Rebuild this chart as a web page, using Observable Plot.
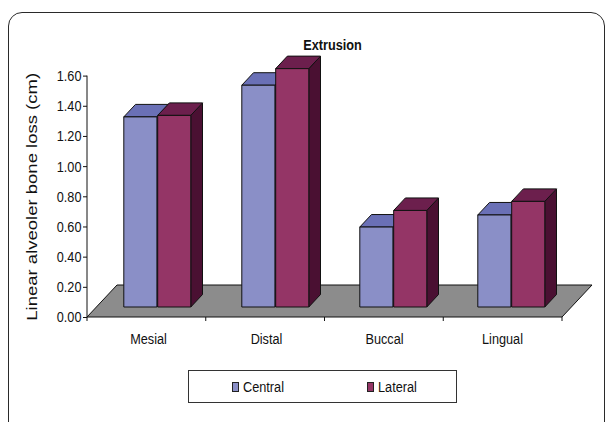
<!DOCTYPE html>
<html>
<head>
<meta charset="utf-8">
<script src="https://cdn.jsdelivr.net/npm/d3@7"></script>
<script src="https://cdn.jsdelivr.net/npm/@observablehq/plot@0.6"></script>
<style>
  html, body { margin: 0; padding: 0; background: #fff; overflow: hidden; }
  #chart { position: relative; width: 610px; height: 422px; overflow: hidden;
           font-family: "Liberation Sans", Arial, sans-serif; }
  #plot { position: absolute; left: 0; top: 0; }
  #border { position: absolute; left: 8px; top: 12px; width: 597px; height: 440px;
            border: 1.5px solid #2a2a2a; border-radius: 14px; box-sizing: border-box; }
  #legend { position: absolute; left: 188px; top: 370px; width: 269px; height: 33px;
            border: 1px solid #333; box-sizing: border-box; background: #fff; font-size: 15.5px; color: #111; }
  #legend .item { position: absolute; top: 0; height: 31px; display: flex; align-items: center; white-space: nowrap; }
  #legend .sw { display: inline-block; width: 5px; height: 8px; border: 1px solid #222; margin-right: 4px; }
  #legend .lbl { display: inline-block; transform: scaleX(0.82); transform-origin: left center; }
</style>
</head>
<body>
<div id="chart">
  <div id="plot"></div>
  <div id="border"></div>
  <div id="legend"></div>
</div>
<script>
// Extrusion: linear alveolar bone loss by site, central vs lateral incisors
const categories = ["Mesial", "Distal", "Buccal", "Lingual"];
const seriesNames = ["Central", "Lateral"];
const centralValues = [1.26, 1.47, 0.53, 0.61];
const lateralValues = [1.27, 1.58, 0.64, 0.70];
const yTicks = [0, 0.2, 0.4, 0.6, 0.8, 1.0, 1.2, 1.4, 1.6];
const titleText = "Extrusion";
const yLabel = "Linear alveoler bone loss (cm)";

const palette = {
  Central: {front: "#8a8fc7", top: "#6a70b6", side: "#4c5090", swatch: "#8a8fc7"},
  Lateral: {front: "#943566", top: "#6c1f4d", side: "#4a1032", swatch: "#943566"}
};

const rows = categories.flatMap((c, i) => [
  {category: c, series: seriesNames[0], value: centralValues[i]},
  {category: c, series: seriesNames[1], value: lateralValues[i]}
]);

// oblique projection: floor depth, bar front-plane offset and bar thickness (px)
const floorDepth = {dx: 30, dy: 32};
const barFront = {dx: 9.3, dy: 10};
const barDepth = {dx: 11.7, dy: 12.5};

const W = 610, H = 422, ML = 87, MR = 48, MT = 75.6, MB = 105;
const band = (W - ML - MR) / categories.length;
const sideGap = 25.5;
const barW = (band - 2 * sideGap) / 2;

// condensed lettering: Arial-metric glyphs squeezed horizontally
const SQUEEZE = 0.82;
const FONT = '"Liberation Sans", Arial, sans-serif';

const NS = "http://www.w3.org/2000/svg";
function poly(points, fill) {
  const p = document.createElementNS(NS, "polygon");
  p.setAttribute("points", points.map(d => d.join(",")).join(" "));
  p.setAttribute("fill", fill);
  p.setAttribute("stroke", "#111");
  p.setAttribute("stroke-width", 1);
  p.setAttribute("stroke-linejoin", "round");
  return p;
}
function line(x1, y1, x2, y2) {
  const l = document.createElementNS(NS, "line");
  l.setAttribute("x1", x1); l.setAttribute("y1", y1);
  l.setAttribute("x2", x2); l.setAttribute("y2", y2);
  l.setAttribute("stroke", "#111");
  l.setAttribute("stroke-width", 1);
  return l;
}
function squeezeAll(root, sx, sy) {
  for (const t of root.querySelectorAll("text")) {
    const tr = t.getAttribute("transform") || "";
    t.setAttribute("transform", `${tr} scale(${sx},${sy})`);
  }
}

// turns the flat bars into prisms: side face, top face, then the front face
function prism(colors) {
  return function(index, scales, values, dimensions, context, next) {
    const flat = next(index, scales, values, dimensions, context);
    const g = document.createElementNS(NS, "g");
    for (const r of flat.querySelectorAll("rect")) {
      const x1 = +r.getAttribute("x") + barFront.dx;
      const x2 = x1 + +r.getAttribute("width");
      const yt = +r.getAttribute("y") - barFront.dy;
      const yb = yt + +r.getAttribute("height");
      const ddx = barDepth.dx, ddy = barDepth.dy;
      g.appendChild(poly([[x2, yt], [x2 + ddx, yt - ddy], [x2 + ddx, yb - ddy], [x2, yb]], colors.side));
      g.appendChild(poly([[x1, yt], [x2, yt], [x2 + ddx, yt - ddy], [x1 + ddx, yt - ddy]], colors.top));
      g.appendChild(poly([[x1, yt], [x2, yt], [x2, yb], [x1, yb]], colors.front));
    }
    return g;
  };
}

// floor, value-axis line and category tick marks
function floorRender(index, scales, values, dimensions) {
  const g = document.createElementNS(NS, "g");
  const y0 = scales.y(0);
  const x0 = dimensions.marginLeft;
  const x1 = dimensions.width - dimensions.marginRight;
  g.appendChild(poly([[x0, y0], [x1, y0], [x1 + floorDepth.dx, y0 - floorDepth.dy], [x0 + floorDepth.dx, y0 - floorDepth.dy]], "#8c8c8c"));
  g.appendChild(line(x0, y0, x0, scales.y(yTicks[yTicks.length - 1])));
  const n = categories.length;
  for (let i = 0; i <= n; ++i) {
    const x = x0 + (x1 - x0) * i / n;
    g.appendChild(line(x, y0, x, y0 + 4));
  }
  return g;
}

function narrowText(sx, sy) {
  return function(index, scales, values, dimensions, context, next) {
    const g = next(index, scales, values, dimensions, context);
    squeezeAll(g, sx, sy);
    return g;
  };
}

const chart = Plot.plot({
  width: W,
  height: H,
  marginLeft: ML,
  marginRight: MR,
  marginTop: MT,
  marginBottom: MB,
  style: {background: "transparent", fontFamily: FONT, fontSize: "15.5px", color: "#111"},
  x: {domain: categories, padding: 0, axis: null},
  y: {domain: [0, 1.6], axis: null},
  marks: [
    Plot.ruleY([0], {render: floorRender}),
    Plot.axisY({ticks: yTicks, tickFormat: d => d.toFixed(2), tickSize: 4, tickPadding: 2, fontSize: 15.5, label: null}),
    Plot.axisX({tickSize: 0, tickPadding: 15, fontSize: 15.5, label: null}),
    Plot.barY(rows.filter(d => d.series === "Central"), {
      x: "category", y: "value", insetLeft: sideGap, insetRight: sideGap + barW,
      render: prism(palette.Central)
    }),
    Plot.barY(rows.filter(d => d.series === "Lateral"), {
      x: "category", y: "value", insetLeft: sideGap + barW, insetRight: sideGap,
      render: prism(palette.Lateral)
    }),
    Plot.text([titleText], {frameAnchor: "top", dx: 7.5, dy: -37, fontWeight: "bold", fontSize: 15.5,
      fill: "#111", render: narrowText(SQUEEZE, 1)}),
    Plot.text([yLabel], {frameAnchor: "left", textAnchor: "middle", dx: -55, rotate: -90, fontSize: 18.5,
      fill: "#111", render: narrowText(1, 0.8)})
  ]
});

// condense the axis tick labels the same way as the title
squeezeAll(chart.querySelector('g[aria-label="y-axis tick label"]') || document.createElement("g"), SQUEEZE, 1);
squeezeAll(chart.querySelector('g[aria-label="x-axis tick label"]') || document.createElement("g"), SQUEEZE, 1);
document.getElementById("plot").appendChild(chart);

// legend
const legend = document.getElementById("legend");
const legendX = [43, 178];
seriesNames.forEach((s, i) => {
  const item = document.createElement("div");
  item.className = "item";
  item.style.left = legendX[i] + "px";
  const sw = document.createElement("span");
  sw.className = "sw";
  sw.style.background = palette[s].swatch;
  const lbl = document.createElement("span");
  lbl.className = "lbl";
  lbl.textContent = s;
  item.appendChild(sw);
  item.appendChild(lbl);
  legend.appendChild(item);
});
</script>
</body>
</html>
